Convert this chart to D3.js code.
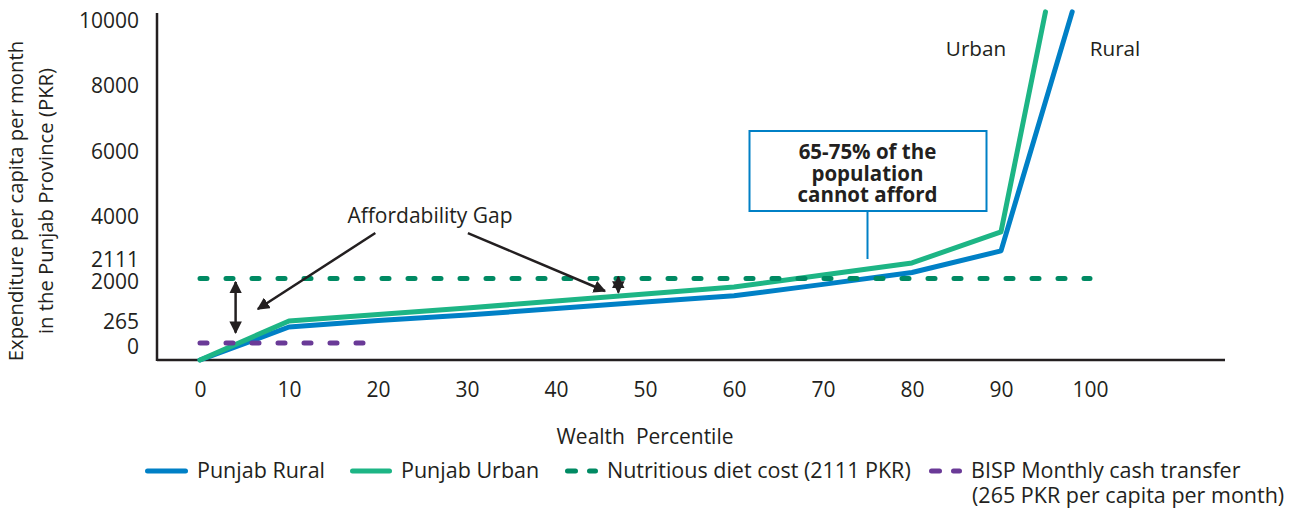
<!DOCTYPE html>
<html>
<head>
<meta charset="utf-8">
<script src="https://cdn.jsdelivr.net/npm/d3@7"></script>
<style>
  body { margin: 0; background: #fff; }
  svg text { font-family: "Open Sans", sans-serif; fill: #231f20; }
</style>
</head>
<body>
<div id="chart"></div>
<script>
// Percentiles and spending (PKR)
const ruralPct = [0, 10, 20, 30, 40, 50, 60, 70, 80, 90, 98];
const ruralSpend = [0, 720, 908, 1061, 1243, 1431, 1610, 1932, 2292, 2954, 10280];
const urbanPct = [0, 10, 20, 30, 40, 50, 60, 70, 80, 90, 95];
const urbanSpend = [0, 891, 1078, 1260, 1460, 1659, 1858, 2215, 2585, 3538, 10280];

const dietCost = 2111;
const dietPct = [0, 100];
const bispTransfer = 265;
const bispPct = [0, 20];

const xTicks = [0, 10, 20, 30, 40, 50, 60, 70, 80, 90, 100];
const yTicks = [0, 265, 2000, 2111, 4000, 6000, 8000, 10000];

const legendLabels = ["Punjab Rural", "Punjab Urban", "Nutritious diet cost (2111 PKR)", "BISP Monthly cash transfer"];

const width = 1306;
const height = 509;

const colRural = "#0080c6";
const colUrban = "#1db585";
const colDiet = "#008a63";
const colBisp = "#6a3a97";
const ink = "#231f20";

const svg = d3.create("svg")
  .attr("width", width)
  .attr("height", height)
  .attr("viewBox", [0, 0, width, height]);

d3.select("#chart").append(() => svg.node());

// x: wealth percentile
const x = d3.scaleLinear().domain([0, 100]).range([200, 1090]);

// y: the original axis is stretched at the bottom, so a piecewise scale
const y = d3.scaleLinear()
  .domain([0, 265, 2000, 10000])
  .range([360, 343, 282, 21]);

const defs = svg.append("defs");
defs.append("marker")
  .attr("id", "head")
  .attr("viewBox", "0 0 10 10")
  .attr("refX", 9).attr("refY", 5)
  .attr("markerWidth", 5).attr("markerHeight", 5)
  .attr("markerUnits", "strokeWidth")
  .attr("orient", "auto-start-reverse")
  .append("path")
  .attr("d", "M0,0L10,5L0,10z")
  .attr("fill", ink);

// axis lines
svg.append("line")
  .attr("x1", 157).attr("x2", 157)
  .attr("y1", 13).attr("y2", y(0) + 1)
  .attr("stroke", ink).attr("stroke-width", 2.5);
svg.append("line")
  .attr("x1", 157).attr("x2", 1225)
  .attr("y1", y(0)).attr("y2", y(0))
  .attr("stroke", ink).attr("stroke-width", 2.5);

// x axis labels
svg.append("g")
  .attr("transform", `translate(0,${y(0)})`)
  .call(d3.axisBottom(x).tickValues(xTicks).tickSize(0).tickPadding(22))
  .call(g => g.select(".domain").remove())
  .call(g => g.selectAll("text").attr("font-size", 21).attr("font-family", null));

// y axis labels, small nudges where the ticks would collide
const nudge = new Map([[0, -13], [265, -21], [2111, -19]]);
svg.append("g")
  .attr("transform", "translate(157,0)")
  .call(d3.axisLeft(y).tickValues(yTicks).tickSize(0).tickPadding(18).tickFormat(d3.format("d")))
  .call(g => g.select(".domain").remove())
  .call(g => g.selectAll("text")
    .attr("font-size", 21)
    .attr("font-family", null)
    .attr("y", d => nudge.get(d) || 0));

svg.append("text")
  .attr("x", 645).attr("y", 444)
  .attr("text-anchor", "middle")
  .attr("font-size", 21)
  .attr("xml:space", "preserve")
  .text("Wealth  Percentile");

svg.append("text")
  .attr("transform", "translate(0,201) rotate(-90)")
  .attr("text-anchor", "middle")
  .attr("font-size", 20.3)
  .call(t => t.append("tspan").attr("x", 0).attr("y", 23).text("Expenditure per capita per month"))
  .call(t => t.append("tspan").attr("x", 0).attr("y", 53).text("in the Punjab Province (PKR)"));

// series lines
const line = d3.line().x(d => x(d[0])).y(d => y(d[1]));

svg.append("path")
  .attr("d", line(d3.zip(ruralPct, ruralSpend)))
  .attr("fill", "none").attr("stroke", colRural)
  .attr("stroke-width", 5).attr("stroke-linecap", "round").attr("stroke-linejoin", "round");

svg.append("path")
  .attr("d", line(d3.zip(urbanPct, urbanSpend)))
  .attr("fill", "none").attr("stroke", colUrban)
  .attr("stroke-width", 5).attr("stroke-linecap", "round").attr("stroke-linejoin", "round");

svg.append("path")
  .attr("d", line(dietPct.map(p => [p, dietCost])))
  .attr("fill", "none").attr("stroke", colDiet)
  .attr("stroke-width", 5).attr("stroke-linecap", "round")
  .attr("stroke-dasharray", "7 19");

svg.append("path")
  .attr("d", line(bispPct.map(p => [p, bispTransfer])))
  .attr("fill", "none").attr("stroke", colBisp)
  .attr("stroke-width", 5).attr("stroke-linecap", "round")
  .attr("stroke-dasharray", "7 19");

// end labels
svg.append("text").attr("x", 976).attr("y", 56).attr("text-anchor", "middle")
  .attr("font-size", 20.7).text("Urban");
svg.append("text").attr("x", 1115).attr("y", 56).attr("text-anchor", "middle")
  .attr("font-size", 20.7).text("Rural");

// affordability gap
svg.append("text").attr("x", 430).attr("y", 223).attr("text-anchor", "middle")
  .attr("font-size", 21).text("Affordability Gap");

const arrow = (p0, p1, both) => svg.append("line")
  .attr("x1", x(p0[0])).attr("y1", y(p0[1]))
  .attr("x2", x(p1[0])).attr("y2", y(p1[1]))
  .attr("stroke", ink).attr("stroke-width", 2.5)
  .attr("marker-end", "url(#head)")
  .attr("marker-start", both ? "url(#head)" : null);

arrow([19.7, 3500], [6.5, 1232]);
arrow([30.1, 3500], [45.5, 1744]);
arrow([4, 2000], [4, 560], true);
arrow([47, 2160], [47, 1700], true);

// callout box
const bx = x(75);
svg.append("line")
  .attr("x1", bx).attr("x2", bx)
  .attr("y1", 211).attr("y2", 259)
  .attr("stroke", colRural).attr("stroke-width", 2);
svg.append("rect")
  .attr("x", bx - 118).attr("y", 131)
  .attr("width", 237).attr("height", 80)
  .attr("fill", "#fff").attr("stroke", colRural).attr("stroke-width", 2);
svg.append("text")
  .attr("text-anchor", "middle")
  .attr("font-size", 20.5)
  .attr("font-weight", "bold")
  .selectAll("tspan")
  .data(["65-75% of the", "population", "cannot afford"])
  .join("tspan")
  .attr("x", bx)
  .attr("y", (d, i) => 159 + i * 21.5)
  .text(d => d);

// legend
const legend = svg.append("g");
const items = [
  { x: 145, color: colRural, dash: null, w: 43 },
  { x: 350, color: colUrban, dash: null, w: 42 },
  { x: 565, color: colDiet, dash: "11 12", w: 33 },
  { x: 929, color: colBisp, dash: "11 12", w: 33 }
];
items.forEach((it, i) => {
  legend.append("line")
    .attr("x1", it.x + 2.5).attr("x2", it.x + it.w - 2.5)
    .attr("y1", 471).attr("y2", 471)
    .attr("stroke", it.color).attr("stroke-width", 5)
    .attr("stroke-linecap", "round")
    .attr("stroke-dasharray", it.dash ? "8 14" : null);
  legend.append("text")
    .attr("x", it.x + it.w + 9).attr("y", 478)
    .attr("font-size", 21.5)
    .text(legendLabels[i]);
});
legend.append("text")
  .attr("x", 972).attr("y", 503)
  .attr("font-size", 21.5)
  .text("(265 PKR per capita per month)");
</script>
</body>
</html>
